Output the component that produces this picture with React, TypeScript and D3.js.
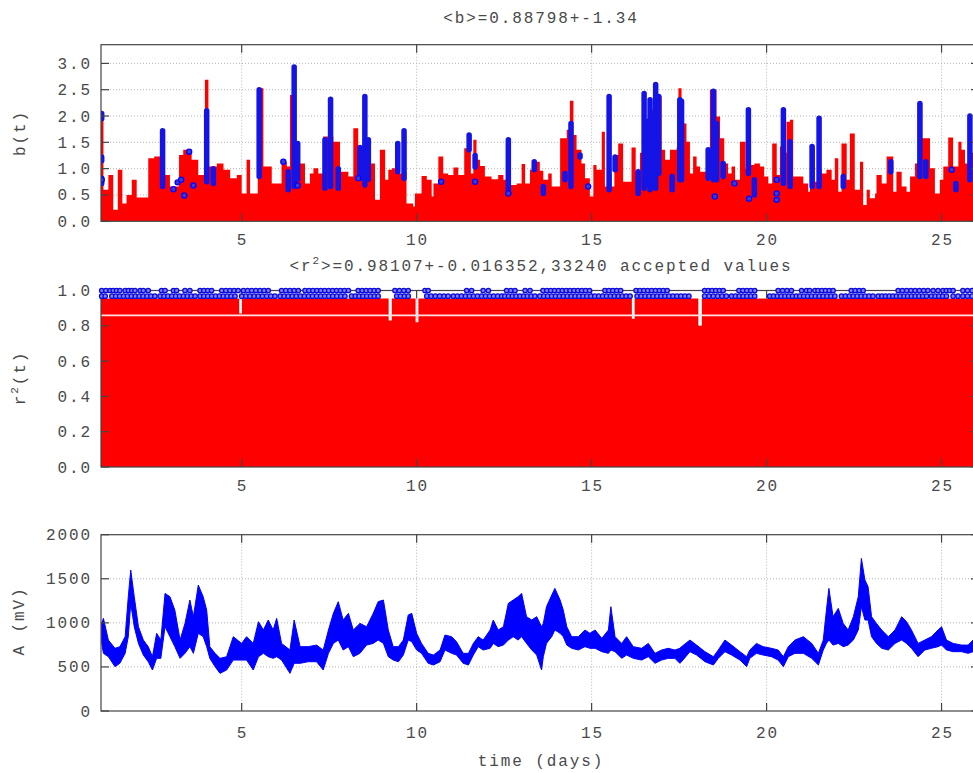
import React from "react";
import * as d3 from "d3";

// ---------- data ----------
const X_DOMAIN: [number, number] = [0.98, 26.07];
const xTicks = [5, 10, 15, 20, 25];
const bTicks = [0, 0.5, 1.0, 1.5, 2.0, 2.5, 3.0];
const r2Ticks = [0, 0.2, 0.4, 0.6, 0.8, 1.0];
const aTicks = [0, 500, 1000, 1500, 2000];

const titleB = "<b>=0.88798+-1.34";
const titleR2a = "<r";
const titleR2b = ">=0.98107+-0.016352,33240 accepted values";

// b(t): top of the red (all values) envelope, step series [day, b]
const bRedEnvelope: [number, number][] = [
  [0.98, 2.05], [1.05, 0.6], [1.19, 0.88], [1.33, 0.22], [1.46, 0.98], [1.59, 0.34], [1.71, 0.5],
  [1.86, 0.79], [2.0, 0.45], [2.33, 1.2], [2.5, 1.23], [2.67, 0.91], [2.81, 0.88], [2.95, 0.66],
  [3.21, 1.26], [3.33, 1.36], [3.57, 1.17], [3.76, 0.88], [3.95, 2.69], [4.05, 1.04], [4.29, 1.1],
  [4.48, 0.98], [4.67, 0.82], [4.86, 0.88], [5.0, 0.53], [5.14, 1.17], [5.24, 0.53], [5.46, 2.53],
  [5.62, 1.04], [5.86, 0.72], [6.14, 1.13], [6.29, 1.04], [6.38, 2.4], [6.52, 1.48], [6.67, 1.1],
  [6.81, 0.72], [6.95, 0.91], [7.05, 1.01], [7.19, 0.91], [7.33, 1.61], [7.43, 1.61], [7.62, 1.51],
  [7.81, 0.94], [8.05, 0.85], [8.19, 1.77], [8.33, 1.42], [8.43, 1.42], [8.62, 1.1], [8.81, 0.41],
  [8.95, 1.36], [9.1, 0.79], [9.19, 0.98], [9.29, 1.01], [9.43, 0.98], [9.52, 0.91], [9.62, 0.94],
  [9.71, 0.34], [9.9, 0.28], [9.95, 0.53], [10.14, 0.86], [10.29, 0.79], [10.43, 0.47], [10.48, 0.72],
  [10.62, 1.23], [10.76, 0.91], [10.9, 0.88], [11.05, 1.02], [11.19, 0.88], [11.36, 1.39], [11.46, 1.36],
  [11.55, 0.91], [11.62, 1.55], [11.71, 1.17], [11.81, 1.05], [11.95, 0.85], [12.14, 0.8], [12.33, 0.88],
  [12.48, 0.79], [12.57, 1.57], [12.67, 0.69], [12.86, 0.72], [13.0, 1.09], [13.1, 0.72], [13.24, 0.98],
  [13.38, 1.13], [13.52, 0.96], [13.62, 0.79], [13.76, 0.91], [13.86, 0.66], [14.1, 1.58], [14.29, 1.74],
  [14.38, 2.29], [14.48, 1.64], [14.57, 1.36], [14.71, 1.1], [14.81, 0.82], [14.95, 0.47], [15.05, 1.07],
  [15.14, 0.98], [15.29, 1.7], [15.38, 0.66], [15.46, 0.9], [15.57, 0.66], [15.65, 1.26], [15.76, 1.48],
  [15.9, 0.75], [16.14, 1.4], [16.26, 0.94], [16.38, 1.3], [16.71, 2.12], [16.81, 1.5], [16.9, 2.37],
  [17.0, 1.36], [17.1, 1.17], [17.24, 1.36], [17.43, 1.4], [17.48, 2.53], [17.57, 2.24], [17.62, 1.86],
  [17.71, 1.51], [17.81, 0.91], [17.9, 1.23], [18.0, 1.04], [18.1, 0.94], [18.19, 0.94], [18.29, 1.2],
  [18.38, 2.5], [18.57, 1.99], [18.67, 1.58], [18.79, 1.1], [18.9, 0.91], [19.0, 1.04], [19.1, 0.79],
  [19.24, 1.51], [19.4, 1.0], [19.55, 1.07], [19.65, 1.1], [19.81, 1.04], [19.93, 0.85], [20.05, 0.72],
  [20.16, 1.48], [20.29, 0.88], [20.38, 1.42], [20.48, 1.3], [20.57, 1.89], [20.67, 1.93], [20.76, 0.85],
  [20.9, 0.85], [21.05, 0.72], [21.19, 0.56], [21.24, 1.42], [21.38, 0.75], [21.46, 1.0], [21.57, 0.91],
  [21.71, 0.98], [21.86, 0.79], [21.95, 1.2], [22.05, 0.56], [22.14, 1.48], [22.29, 0.79], [22.38, 1.67],
  [22.52, 0.6], [22.67, 1.13], [22.76, 0.31], [22.86, 0.6], [22.95, 0.44], [23.1, 0.53], [23.14, 0.88],
  [23.29, 0.72], [23.43, 1.23], [23.62, 0.56], [23.71, 0.94], [23.86, 0.66], [24.0, 0.56], [24.1, 0.85],
  [24.24, 1.1], [24.33, 2.24], [24.45, 1.58], [24.57, 1.58], [24.67, 1.01], [24.81, 0.53], [24.95, 0.79],
  [25.05, 1.04], [25.19, 1.59], [25.33, 1.04], [25.48, 1.51], [25.57, 1.36], [25.67, 1.1], [25.76, 1.3],
  [25.9, 1.3], [26.1, 1.3],
];

// b(t): accepted (blue) values forming dense columns [day, low, high]
const bBlueColumns: [number, number, number][] = [
  [1.0, 1.95, 2.05], [1.0, 1.15, 1.22], [1.0, 0.72, 0.82], [2.74, 0.66, 1.72], [4.0, 0.75, 2.1],
  [4.19, 0.72, 1.0], [5.5, 0.85, 2.5], [6.33, 0.6, 0.94], [6.5, 0.66, 2.93], [6.6, 0.8, 1.48],
  [7.38, 0.63, 1.55], [7.54, 0.66, 2.32], [7.76, 0.63, 1.0], [8.38, 0.82, 1.4], [8.52, 0.69, 2.37],
  [8.62, 0.8, 1.55], [9.46, 0.94, 1.48], [9.64, 0.82, 1.72], [11.5, 1.36, 1.64], [11.67, 1.03, 1.25],
  [12.62, 0.53, 1.55], [13.36, 0.98, 1.13], [13.62, 0.53, 0.66], [14.24, 0.79, 0.91], [14.41, 0.66, 1.86],
  [14.67, 1.22, 1.26], [15.5, 0.6, 2.37], [15.67, 0.98, 1.22], [16.33, 0.53, 0.94], [16.5, 0.63, 2.43],
  [16.6, 0.7, 1.9], [16.67, 0.6, 2.31], [16.75, 0.65, 2.0], [16.83, 0.63, 2.6], [16.92, 0.91, 2.37],
  [17.3, 0.6, 0.85], [17.52, 0.79, 2.31], [17.57, 0.79, 2.28], [18.33, 0.82, 1.36], [18.48, 0.79, 2.47],
  [18.57, 0.79, 1.86], [18.76, 0.85, 1.1], [19.48, 0.91, 2.12], [19.65, 0.5, 0.79], [20.48, 0.72, 2.12],
  [20.67, 0.66, 1.51], [21.3, 0.66, 1.42], [21.5, 0.66, 1.96], [22.19, 0.66, 0.85], [23.55, 0.94, 1.13],
  [24.38, 0.85, 2.24], [24.55, 0.85, 1.13], [25.41, 0.6, 0.72], [25.81, 0.79, 2.0],
];

// b(t): isolated accepted values [day, b]
const bBlueDots: [number, number][] = [
  [1.0, 0.79], [3.05, 0.61], [3.17, 0.74], [3.27, 0.79], [3.36, 0.49], [3.5, 1.32], [3.62, 0.68],
  [6.19, 1.13], [6.6, 0.68], [8.33, 0.82], [10.7, 0.75], [11.67, 0.75], [12.62, 0.53], [14.9, 0.66],
  [18.52, 0.47], [19.08, 0.72], [19.5, 0.43], [20.29, 0.79], [20.29, 0.53], [20.29, 0.41], [25.29, 0.98],
];

// r^2(t): top of the red envelope, step series [day, r2]
const r2RedEnvelope: [number, number][] = [
  [0.98, 0.955], [4.93, 0.87], [5.01, 0.955], [9.2, 0.83], [9.29, 0.955], [9.97, 0.82], [10.05, 0.955],
  [16.15, 0.84], [16.23, 0.955], [18.05, 0.8], [18.15, 0.955], [26.1, 0.955],
];
const r2Threshold = 0.859;
const r2RowHigh = 1.0;
const r2RowLow = 0.968;
// r^2(t): day ranges where accepted (blue) values sit on each row
const r2RowHighSpans: [number, number][] = [
  [1.0, 1.24], [1.33, 1.52], [1.67, 1.86], [1.95, 2.1], [2.19, 2.33], [2.71, 2.81], [3.05, 3.14],
  [3.38, 3.52], [3.81, 4.14], [4.43, 4.9], [5.05, 5.76], [6.14, 6.62], [6.81, 8.05], [8.33, 8.9],
  [9.38, 9.76], [10.24, 10.33], [11.43, 11.57], [11.9, 12.05], [12.57, 12.81], [13.1, 13.24],
  [13.61, 14.94], [15.38, 15.83], [16.27, 17.16], [18.23, 18.76], [19.21, 19.66], [20.33, 20.71],
  [21.0, 21.14], [21.23, 21.38], [21.47, 21.9], [22.42, 22.76], [23.76, 24.61], [24.76, 24.9],
  [25.04, 25.33], [25.61, 26.0],
];
const r2RowLowSpans: [number, number][] = [
  [1.0, 1.1], [1.29, 2.52], [2.67, 3.67], [3.81, 4.81], [5.0, 5.95], [6.1, 7.95], [8.14, 8.9],
  [9.43, 9.76], [10.29, 10.9], [11.05, 12.43], [12.52, 13.38], [13.52, 16.1], [16.3, 17.78],
  [18.23, 18.85], [19.0, 19.66], [20.09, 20.85], [20.95, 21.95], [22.14, 23.04], [23.19, 23.61],
  [23.71, 24.57], [24.71, 25.14], [25.33, 25.47], [25.61, 26.0],
];

// A(t): amplitude band [day, upper mV, lower mV]
const ampBand: [number, number, number][] = [
  [1.0, 994, 767], [1.05, 1051, 654], [1.19, 805, 616], [1.38, 711, 503], [1.52, 730, 541],
  [1.67, 843, 654], [1.76, 1297, 843], [1.83, 1599, 1221], [1.93, 1297, 956], [2.05, 956, 767],
  [2.19, 805, 635], [2.33, 730, 559], [2.45, 616, 465], [2.57, 881, 597], [2.69, 805, 597],
  [2.81, 1334, 956], [2.95, 1297, 843], [3.09, 1145, 730], [3.24, 805, 597], [3.38, 994, 654],
  [3.52, 1259, 730], [3.62, 1070, 654], [3.76, 1429, 881], [3.9, 1297, 843], [4.0, 1145, 730],
  [4.09, 730, 597], [4.24, 654, 503], [4.38, 597, 427], [4.57, 616, 465], [4.76, 843, 578],
  [5.0, 767, 578], [5.14, 843, 578], [5.33, 767, 465], [5.48, 1013, 616], [5.62, 919, 654],
  [5.76, 1032, 616], [5.9, 919, 597], [6.0, 1051, 616], [6.14, 767, 578], [6.38, 692, 427],
  [6.5, 1032, 541], [6.67, 730, 541], [6.9, 730, 559], [7.14, 748, 559], [7.33, 692, 465],
  [7.48, 919, 654], [7.62, 1108, 767], [7.76, 1240, 805], [7.9, 1032, 692], [8.05, 1108, 730],
  [8.19, 919, 616], [8.38, 994, 654], [8.57, 956, 748], [8.76, 1108, 767], [8.9, 1240, 805],
  [9.05, 1259, 767], [9.19, 919, 616], [9.33, 730, 578], [9.48, 730, 559], [9.62, 805, 635],
  [9.76, 1089, 805], [9.86, 1108, 786], [10.0, 881, 692], [10.14, 767, 654], [10.33, 654, 541],
  [10.48, 635, 522], [10.67, 692, 559], [10.81, 862, 692], [11.0, 843, 654], [11.14, 786, 635],
  [11.33, 654, 541], [11.48, 654, 522], [11.62, 767, 635], [11.76, 843, 730], [11.9, 805, 692],
  [12.1, 919, 711], [12.19, 1032, 767], [12.33, 919, 730], [12.48, 956, 748], [12.62, 1221, 805],
  [12.76, 1259, 843], [12.9, 1297, 805], [13.0, 1334, 843], [13.14, 1070, 767], [13.29, 1032, 692],
  [13.43, 1070, 635], [13.57, 956, 465], [13.62, 994, 616], [13.71, 1183, 767], [13.86, 1315, 843],
  [13.95, 1391, 919], [14.1, 1259, 881], [14.19, 1145, 843], [14.29, 956, 748], [14.43, 843, 711],
  [14.62, 843, 692], [14.81, 919, 730], [14.95, 881, 711], [15.1, 919, 711], [15.29, 824, 673],
  [15.48, 919, 654], [15.55, 1183, 692], [15.67, 843, 673], [15.86, 767, 597], [16.0, 843, 635],
  [16.19, 730, 597], [16.43, 711, 578], [16.62, 767, 616], [16.81, 654, 541], [17.0, 692, 578],
  [17.19, 711, 597], [17.38, 692, 597], [17.52, 711, 541], [17.57, 730, 559], [17.81, 805, 673],
  [18.0, 748, 635], [18.24, 673, 559], [18.48, 616, 522], [18.62, 692, 597], [18.81, 805, 673],
  [19.0, 748, 635], [19.24, 673, 578], [19.43, 616, 503], [19.52, 692, 597], [19.71, 767, 654],
  [19.9, 730, 635], [20.14, 711, 616], [20.33, 692, 578], [20.48, 616, 503], [20.62, 730, 616],
  [20.81, 805, 654], [21.05, 843, 654], [21.29, 767, 597], [21.48, 654, 522], [21.62, 805, 692],
  [21.71, 1145, 767], [21.78, 1391, 805], [21.9, 1070, 748], [22.05, 1164, 767], [22.19, 994, 730],
  [22.33, 919, 748], [22.48, 1070, 805], [22.62, 1297, 919], [22.71, 1731, 1183], [22.81, 1486, 1032],
  [22.9, 1410, 1032], [23.0, 1070, 843], [23.14, 994, 767], [23.29, 919, 711], [23.48, 843, 692],
  [23.67, 919, 767], [23.86, 1070, 805], [24.0, 1013, 767], [24.14, 919, 711], [24.33, 767, 616],
  [24.52, 805, 692], [24.71, 843, 711], [24.9, 919, 730], [25.0, 956, 748], [25.14, 805, 692],
  [25.33, 767, 673], [25.57, 748, 673], [25.76, 748, 654], [25.9, 805, 673], [26.1, 780, 670],
];

// ---------- layout / style ----------
const W = 973;
const H = 773;
const L = 101;
const R = 979;
const FONT = "'Liberation Mono', 'DejaVu Sans Mono', monospace";
const FS = 16;
const LS = 1.9;
const TXT = "#4a4a4a";
const RED = "#ff0000";
const BLUE = "#0000ff";

type Panel = { top: number; bottom: number; y: d3.ScaleLinear<number, number> };

function Frame({ p, x, yTicks, fmt, tickLabelY }: {
  p: Panel; x: d3.ScaleLinear<number, number>; yTicks: number[]; fmt: (v: number) => string; tickLabelY: number;
}) {
  const tl = 8;
  return (
    <g>
      <rect x={L} y={p.top} width={R - L} height={p.bottom - p.top} fill="none" stroke="#444" strokeWidth={1.2} />
      {xTicks.map((t) => (
        <g key={"xt" + t}>
          <line x1={x(t)} x2={x(t)} y1={p.bottom} y2={p.bottom - tl} stroke="#444" strokeWidth={1.2} />
          <line x1={x(t)} x2={x(t)} y1={p.top} y2={p.top + tl} stroke="#444" strokeWidth={1.2} />
          <text x={x(t) + LS / 2} y={tickLabelY} textAnchor="middle" fontFamily={FONT} fontSize={FS}
            letterSpacing={LS} fill={TXT}>{t}</text>
        </g>
      ))}
      {yTicks.map((t) => (
        <g key={"yt" + t}>
          <line x1={L} x2={L + tl} y1={p.y(t)} y2={p.y(t)} stroke="#444" strokeWidth={1.2} />
          <line x1={R - tl} x2={R} y1={p.y(t)} y2={p.y(t)} stroke="#444" strokeWidth={1.2} />
          <text x={92} y={p.y(t) + 5.5} textAnchor="end" fontFamily={FONT} fontSize={FS}
            letterSpacing={LS} fill={TXT}>{fmt(t)}</text>
        </g>
      ))}
    </g>
  );
}

function Grid({ p, x, yTicks }: { p: Panel; x: d3.ScaleLinear<number, number>; yTicks: number[] }) {
  const last = yTicks[yTicks.length - 1];
  return (
    <g stroke="#b5b5b5" strokeWidth={1} strokeDasharray="1 2">
      {xTicks.map((t) => <line key={"gx" + t} x1={x(t)} x2={x(t)} y1={p.top} y2={p.bottom} />)}
      {yTicks.slice(1, -1).map((t) => <line key={"gy" + t} x1={L} x2={R} y1={p.y(t)} y2={p.y(t)} />)}
      {p.y(last) > p.top + 2 ? <line x1={L} x2={R} y1={p.y(last)} y2={p.y(last)} /> : null}
    </g>
  );
}

export default function App() {
  const x = d3.scaleLinear().domain(X_DOMAIN).range([L, R]);
  const p1: Panel = { top: 44.7, bottom: 221.3, y: d3.scaleLinear().domain([0, 3.355]).range([221.3, 44.7]) };
  const p2: Panel = { top: 290.5, bottom: 467, y: d3.scaleLinear().domain([0, 1]).range([467, 290.5]) };
  const p3: Panel = { top: 534.7, bottom: 711, y: d3.scaleLinear().domain([0, 2000]).range([711, 534.7]) };

  const redArea1 = d3.area<[number, number]>()
    .x((d) => x(d[0])).y0(p1.y(0)).y1((d) => p1.y(d[1])).curve(d3.curveStepAfter)(bRedEnvelope) || "";
  const redArea2 = d3.area<[number, number]>()
    .x((d) => x(d[0])).y0(p2.y(0)).y1((d) => p2.y(d[1])).curve(d3.curveStepAfter)(r2RedEnvelope) || "";
  const ampArea = d3.area<[number, number, number]>()
    .x((d) => x(d[0])).y0((d) => p3.y(d[2])).y1((d) => p3.y(d[1])).curve(d3.curveLinear)(ampBand) || "";

  const rowCircles = (spans: [number, number][], v: number, key: string) =>
    spans.flatMap(([a, b], i) => {
      const x1 = x(a), x2 = x(b);
      const n = Math.max(1, Math.round((x2 - x1) / 4));
      const out = [];
      for (let k = 0; k <= n; k++) {
        const cx = x1 + ((x2 - x1) * k) / n;
        out.push(<circle key={key + i + "_" + k} cx={cx} cy={p2.y(v)} r={2.2} fill="#8080f0" stroke="#0a0ae0" strokeWidth={1.3} />);
      }
      return out;
    });

  return (
    <svg width={W} height={H} style={{ position: "absolute", left: 0, top: 0, background: "#fff" }}>
      <defs>
        <clipPath id="c1"><rect x={L} y={p1.top} width={R - L} height={p1.bottom - p1.top} /></clipPath>
        <clipPath id="c2"><rect x={L} y={p2.top} width={R - L} height={p2.bottom - p2.top} /></clipPath>
        <clipPath id="c3"><rect x={L} y={p3.top} width={R - L} height={p3.bottom - p3.top} /></clipPath>
      </defs>
      <rect x={0} y={0} width={W} height={H} fill="#fff" />

      {/* titles */}
      <text x={540 + LS / 2} y={23} textAnchor="middle" fontFamily={FONT} fontSize={FS} letterSpacing={LS} fill={TXT}>
        {titleB}
      </text>
      <text x={540 + LS / 2} y={271} textAnchor="middle" fontFamily={FONT} fontSize={FS} letterSpacing={LS} fill={TXT}>
        {titleR2a}
        <tspan dy={-7} fontSize={11}>2</tspan>
        <tspan dy={7}>{titleR2b}</tspan>
      </text>

      {/* panel 1: b(t) */}
      <Grid p={p1} x={x} yTicks={bTicks} />
      <g clipPath="url(#c1)">
        <path d={redArea1} fill={RED} />
        {bBlueColumns.map(([d, lo, hi], i) => (
          <line key={"bc" + i} x1={x(d)} x2={x(d)} y1={p1.y(lo)} y2={p1.y(hi)} stroke="#1414e6"
            strokeWidth={5.5} strokeLinecap="round" />
        ))}
        {bBlueDots.map(([d, v], i) => (
          <circle key={"bd" + i} cx={x(d)} cy={p1.y(v)} r={2.6} fill="#3a3ad0" stroke={BLUE} strokeWidth={1.2} />
        ))}
      </g>
      <Frame p={p1} x={x} yTicks={bTicks} fmt={(v) => v.toFixed(1)} tickLabelY={245} />

      {/* panel 2: r^2(t) */}
      <Grid p={p2} x={x} yTicks={r2Ticks} />
      <g clipPath="url(#c2)">
        <path d={redArea2} fill={RED} />
        <line x1={L} x2={R} y1={p2.y(r2Threshold)} y2={p2.y(r2Threshold)} stroke="#ffe0e0" strokeWidth={1.6} />
      </g>
      <Frame p={p2} x={x} yTicks={r2Ticks} fmt={(v) => v.toFixed(1)} tickLabelY={491} />
      <g>
        {rowCircles(r2RowLowSpans, r2RowLow, "lo")}
        {rowCircles(r2RowHighSpans, r2RowHigh, "hi")}
      </g>

      {/* panel 3: A(t) */}
      <Grid p={p3} x={x} yTicks={aTicks} />
      <g clipPath="url(#c3)">
        <path d={ampArea} fill={BLUE} stroke={BLUE} strokeWidth={1} />
      </g>
      <Frame p={p3} x={x} yTicks={aTicks} fmt={(v) => String(v)} tickLabelY={738} />

      {/* axis titles */}
      <text transform="translate(25,133) rotate(-90)" textAnchor="middle" fontFamily={FONT} fontSize={FS}
        letterSpacing={LS} fill={TXT}>b(t)</text>
      <text transform="translate(25,378) rotate(-90)" textAnchor="middle" fontFamily={FONT} fontSize={FS}
        letterSpacing={LS} fill={TXT}>r<tspan dy={-7} fontSize={11}>2</tspan><tspan dy={7}>(t)</tspan></text>
      <text transform="translate(24,621) rotate(-90)" textAnchor="middle" fontFamily={FONT} fontSize={FS}
        letterSpacing={LS} fill={TXT}>A (mV)</text>
      <text x={540 + LS / 2} y={766} textAnchor="middle" fontFamily={FONT} fontSize={FS} letterSpacing={LS} fill={TXT}>
        time (days)
      </text>
    </svg>
  );
}
